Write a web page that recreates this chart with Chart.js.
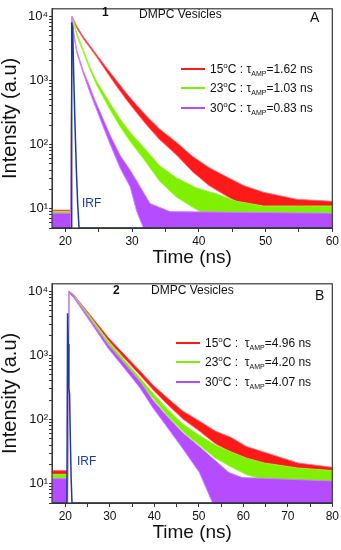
<!DOCTYPE html>
<html>
<head>
<meta charset="utf-8">
<script src="https://cdn.jsdelivr.net/npm/chart.js@4.4.1/dist/chart.umd.min.js"></script>
<style>
  body { margin: 0; background: #fff; font-family: "Liberation Sans", Arial, sans-serif; }
  .panel { position: absolute; left: 0; width: 341px; height: 275px; }
  .panel canvas { position: absolute; left: 0; top: 0; }
  .lbl { position: absolute; white-space: nowrap; color: #111; line-height: 1; font-size: 12px; }
  .leg { position: absolute; white-space: nowrap; font-size: 12px; line-height: 1; color: #111; }
  .leg i { display: inline-block; width: 24px; height: 2px; vertical-align: middle; margin-right: 5px; position: relative; top: -1px; }
  .leg sup { font-size: 8px; vertical-align: 5px; line-height: 0; }
  .leg sub { font-size: 7px; vertical-align: -3px; line-height: 0; }
</style>
</head>
<body>
<div class="panel" id="pA" style="top:0"><canvas id="chartA" width="341" height="275"></canvas></div>
<div class="panel" id="pB" style="top:275px"><canvas id="chartB" width="341" height="275"></canvas></div>
<script>
// -------- Datos --------

// Panel A: tiempos (ns), borde inferior / superior de la banda de ruido
const a15T  = [18, 20.8, 21.0, 21.7, 22.7, 23.7, 24.7, 26.2, 27.7, 29.2, 30.7, 32.2, 34.1, 36.7, 39, 41.5, 44, 46.7, 49.7, 54.7, 60];
const a15Lo = [4, 4, 9300, 6500, 4400, 3200, 2300, 1350, 800, 490, 310, 200, 120, 68, 38, 23, 16, 11, 7.8, 5.6, 5];
const a15Hi = [9.5, 9.5, 10000, 7000, 4750, 3450, 2500, 1550, 980, 620, 410, 275, 175, 107, 66, 44, 32, 23, 18, 14, 13];

const a23T  = [18, 20.8, 21.0, 21.7, 22.7, 23.7, 24.7, 25.7, 26.7, 28.2, 29.7, 31.7, 34.1, 36.7, 39.7, 42.7, 45.7, 49.7, 60];
const a23Lo = [4, 4, 9300, 5000, 2700, 1450, 840, 540, 350, 190, 112, 60, 27, 15, 9.6, 6.7, 4, 4, 4];
const a23Hi = [9, 9, 10000, 5500, 2950, 1600, 960, 650, 440, 250, 155, 91, 47, 30, 21, 17, 13, 11, 11];

const a30T  = [18, 20.8, 21.0, 21.3, 21.7, 22.7, 23.7, 24.2, 25.7, 26.7, 28.2, 29.7, 30.7, 31.7, 32.7, 35.7, 60];
const a30Lo = [4, 4, 9300, 4800, 2700, 1270, 640, 470, 185, 102, 43, 22, 9, 5, 4, 4, 4];
const a30Hi = [8.5, 8.5, 10000, 5200, 2950, 1400, 780, 560, 245, 140, 68, 40, 27, 18, 12, 9, 8.5];

const aIrfT = [18, 20.85, 20.95, 21.1, 21.25, 21.45, 21.65, 21.85, 22.05, 60];
const aIrfY = [5, 5, 8000, 6500, 1200, 200, 40, 12, 5, 5];

// Panel B
const b15T  = [17, 20.5, 20.8, 21.9, 25.7, 29.7, 33.7, 36.7, 39.7, 42.7, 46.4, 50.1, 53.7, 57.4, 60.7, 64.7, 72.3, 80];
const b15Lo = [4, 4, 9400, 8200, 3800, 1680, 830, 495, 290, 178, 102, 66, 42, 30, 21, 16, 12.6, 10.5];
const b15Hi = [16, 16, 10000, 8800, 4170, 1880, 955, 580, 345, 224, 135, 95, 66, 52, 38, 31, 21, 18];

const b23T  = [17, 20.5, 20.8, 21.9, 25.7, 29.7, 33.7, 36.7, 39.7, 42.7, 46.4, 50.1, 53.7, 57.4, 60.7, 64.7, 72.3, 80];
const b23Lo = [4, 4, 9400, 8040, 3550, 1460, 676, 385, 214, 120, 65, 40, 25, 18, 13.8, 11.5, 9.8, 9.3];
const b23Hi = [14, 14, 10000, 8610, 3890, 1640, 776, 452, 257, 151, 85, 57, 40, 31, 25, 21, 17.5, 16];

const b30T  = [17, 20.5, 20.8, 21.9, 25.7, 29.7, 33.7, 36.7, 39.7, 42.7, 46.4, 50.1, 53.7, 56.7, 59.7, 80];
const b30Lo = [4, 4, 9400, 7870, 3240, 1260, 575, 316, 151, 79, 35, 15, 4, 4, 4, 4];
const b30Hi = [12, 12, 10000, 8420, 3550, 1445, 692, 398, 200, 115, 62, 38, 23, 15, 12.5, 11];

const bIrfT = [17, 20.35, 20.5, 20.65, 20.8, 20.95, 21.1, 21.3, 21.5, 80];
const bIrfY = [5, 5, 4500, 1500, 300, 250, 60, 12, 5, 5];

// Ejes y leyenda
const xTicksA = [20, 25, 30, 35, 40, 45, 50, 55, 60];
const xTicksB = [20, 25, 30, 35, 40, 45, 50, 55, 60, 65, 70, 75, 80];
const yDecades = [1, 10, 100, 1000, 10000];
const legendTemps = ['15', '23', '30'];
const tauA = ['1.62', '1.03', '0.83'];
const tauB = ['4.96', '4.20', '4.07'];

// -------- Estilos --------
const colors = ['#ff1a1a', '#7ef000', '#b64cff'];
const edges  = ['rgba(255,110,120,0.9)', 'rgba(160,245,60,0.9)', 'rgba(205,130,255,0.9)'];
const irfColor = '#1b3aa3';
const FONT = '"Liberation Sans", Arial, sans-serif';
const SUP = { 1: '¹', 2: '²', 3: '³', 4: '⁴' };

function pts(t, y) {
    return t.map((x, i) => ({ x, y: y[i] }));
}

function band(t, lo, hi, k) {
    return [
        { data: pts(t, hi), borderColor: edges[k], borderWidth: 1, fill: false },
        { data: pts(t, lo), borderColor: edges[k], borderWidth: 1, fill: '-1', backgroundColor: colors[k] }
    ];
}

const framePlugin = {
    id: 'frame',
    afterDraw(chart) {
        const { ctx, chartArea: a } = chart;
        ctx.save();
        ctx.strokeStyle = '#3a3a3a';
        ctx.lineWidth = 1.2;
        ctx.strokeRect(a.left, a.top, a.right - a.left, a.bottom - a.top);
        ctx.restore();
    }
};

function renderPanel(canvasId, xmin, xmax, xTicks, datasets) {
    const yTickVals = [];
    yDecades.forEach(d => [1, 2, 3, 4, 5, 6, 7, 8, 9].forEach(m => {
        const v = d * m;
        if (v >= 5 && v <= 13000) yTickVals.push(v);
    }));

    return new Chart(document.getElementById(canvasId), {
        type: 'line',
        data: { datasets },
        plugins: [framePlugin],
        options: {
            responsive: false,
            animation: false,
            events: [],
            layout: { padding: { top: 2, right: 8, left: 0, bottom: 0 } },
            elements: { point: { radius: 0 }, line: { tension: 0 } },
            plugins: { legend: { display: false }, tooltip: { enabled: false } },
            scales: {
                x: {
                    type: 'linear',
                    min: xmin,
                    max: xmax,
                    afterBuildTicks: s => { s.ticks = xTicks.map(v => ({ value: v })); },
                    afterFit: s => { s.height = 47; },
                    grid: { drawOnChartArea: false, tickLength: 4, color: '#333' },
                    border: { color: '#333' },
                    ticks: {
                        autoSkip: false, maxRotation: 0, padding: 2, color: '#111',
                        font: { family: FONT, size: 12 },
                        callback: v => (v % 10 === 0 ? String(v) : '')
                    },
                    title: {
                        display: true, text: 'Time (ns)', color: '#111',
                        font: { family: FONT, size: 19, lineHeight: 1.2 },
                        padding: { top: 0, bottom: 6 }
                    }
                },
                y: {
                    type: 'logarithmic',
                    min: 5,
                    max: 13000,
                    afterBuildTicks: s => { s.ticks = yTickVals.map(v => ({ value: v })); },
                    afterFit: s => { s.width = 52; },
                    grid: { drawOnChartArea: false, tickLength: 3, color: '#333' },
                    border: { color: '#333' },
                    ticks: {
                        autoSkip: false, padding: 1, color: '#111',
                        font: { family: FONT, size: 13 },
                        callback: v => {
                            const e = Math.round(Math.log10(v));
                            return Math.abs(Math.pow(10, e) - v) < 1e-6 ? '10' + SUP[e] : '';
                        }
                    },
                    title: {
                        display: true, text: 'Intensity (a.u)', color: '#111',
                        font: { family: FONT, size: 20, lineHeight: 1 },
                        padding: 0
                    }
                }
            }
        }
    });
}

function irfSet(t, y) {
    return { data: pts(t, y), borderColor: irfColor, borderWidth: 1.5, fill: false };
}

renderPanel('chartA', 18, 60, xTicksA, [
    irfSet(aIrfT, aIrfY),
    ...band(a30T, a30Lo, a30Hi, 2),
    ...band(a23T, a23Lo, a23Hi, 1),
    ...band(a15T, a15Lo, a15Hi, 0)
]);

renderPanel('chartB', 17, 80, xTicksB, [
    irfSet(bIrfT, bIrfY),
    ...band(b30T, b30Lo, b30Hi, 2),
    ...band(b23T, b23Lo, b23Hi, 1),
    ...band(b15T, b15Lo, b15Hi, 0)
]);

// -------- Textos y leyenda --------
function addLabel(panelId, html, left, top, extra) {
    const el = document.createElement('div');
    el.className = 'lbl';
    el.innerHTML = html;
    el.style.left = left + 'px';
    el.style.top = top + 'px';
    if (extra) Object.assign(el.style, extra);
    document.getElementById(panelId).appendChild(el);
}

function addLegend(panelId, taus, left, tops, gap) {
    legendTemps.forEach((temp, i) => {
        const el = document.createElement('div');
        el.className = 'leg';
        el.style.left = left + 'px';
        el.style.top = tops[i] + 'px';
        el.innerHTML = `<i style="background:${colors[i]}"></i>${temp}<sup>o</sup>C :${gap}τ<sub>AMP</sub>=${taus[i]} ns`;
        document.getElementById(panelId).appendChild(el);
    });
}

addLabel('pA', '<b>1</b>', 102, 6);
addLabel('pA', 'DMPC Vesicles', 139, 8);
addLabel('pA', 'A', 310, 10, { fontSize: '14px' });
addLabel('pA', 'IRF', 82, 197, { color: irfColor });
addLegend('pA', tauA, 181, [63, 82, 102], ' ');

addLabel('pB', '<b>2</b>', 113, 9);
addLabel('pB', 'DMPC Vesicles', 151, 9);
addLabel('pB', 'B', 315, 13, { fontSize: '14px' });
addLabel('pB', 'IRF', 77, 180, { color: irfColor });
addLegend('pB', tauB, 176, [62, 81, 101], '&nbsp; ');
</script>
</body>
</html>
